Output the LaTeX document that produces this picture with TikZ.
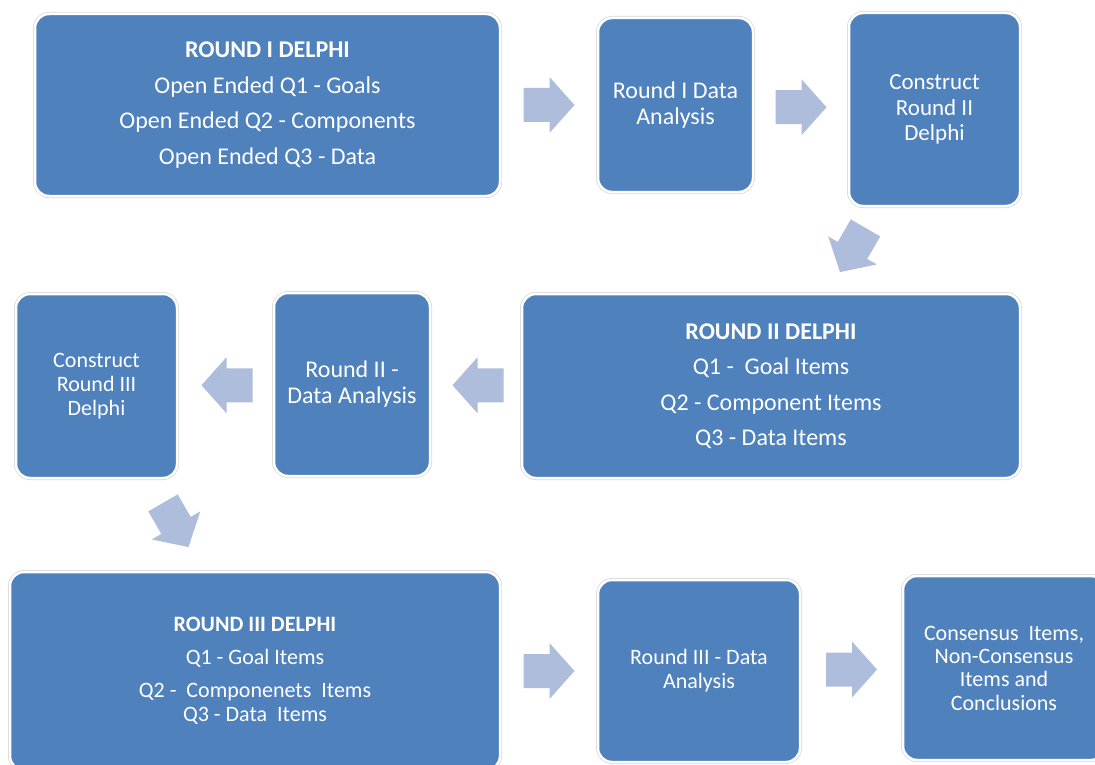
\documentclass[tikz,border=0pt]{standalone}
\usepackage{fontspec}
\setmainfont{Carlito}
\usetikzlibrary{calc}
\definecolor{boxblue}{RGB}{79,129,189}
\definecolor{arrowblue}{RGB}{173,189,219}
\tikzset{
  box/.style={rectangle, rounded corners=14pt, fill=boxblue, draw=white, line width=2.5pt,
    preaction={draw=black!15, line width=4pt}, text=white, align=center, inner sep=0pt},
  bigtext/.style={font=\fontsize{24}{35.5}\selectfont},
  midtext/.style={font=\fontsize{24}{26}\selectfont},
  smalltext/.style={font=\fontsize{22}{24}\selectfont},
  blockarrow/.style={fill=arrowblue},
}
\newcommand\blockarrow[2]{%
  \fill[blockarrow, shift={#1}, rotate=#2]
    (-25.5,-17) -- (0.5,-17) -- (0.5,-28) -- (25.5,0) -- (0.5,28) -- (0.5,17) -- (-25.5,17) -- cycle;}
\begin{document}
\begin{tikzpicture}[x=1pt,y=-1pt]
\useasboundingbox (0,0) rectangle (1095,765);
\clip (0,0) rectangle (1095,765);
% row 1
\node[box, bigtext, minimum width=465pt, minimum height=182pt] (b1) at (267.5,105)
  {\textbf{ROUND I DELPHI}\\Open Ended Q1 - Goals\\Open Ended Q2 - Components\\Open Ended Q3 - Data};
\node[box, midtext, minimum width=155pt, minimum height=174pt] (b2) at (675.5,105)
  {Round I Data\\Analysis};
\node[box, font=\fontsize{23}{25.5}\selectfont, minimum width=171pt, minimum height=193pt] (b3) at (934.5,109.5)
  {Construct\\Round II\\Delphi};
% row 2
\node[box, bigtext, minimum width=498pt, minimum height=184pt] (b4) at (771,386)
  {\textbf{ROUND II DELPHI}\\Q1 -\ \ Goal Items\\Q2 - Component Items\\Q3 - Data Items};
\node[box, midtext, minimum width=156pt, minimum height=183pt] (b5) at (352,384.5)
  {Round II -\\Data Analysis};
\node[box, smalltext, minimum width=161pt, minimum height=184pt] (b6) at (96.5,386)
  {Construct\\Round III\\Delphi};
% row 3
\node[box, smalltext, minimum width=490pt, minimum height=198pt] (b7) at (255,671)
  {\textbf{ROUND III DELPHI}\\[9pt]Q1 - Goal Items\\[9pt]Q2 -\ \ Componenets\ \ Items\\Q3 - Data\ \ Items};
\node[box, smalltext, minimum width=202pt, minimum height=182pt] (b8) at (699,671)
  {Round III - Data\\Analysis};
\node[box, font=\fontsize{22}{23.3}\selectfont, minimum width=202pt, minimum height=184pt] (b9) at (1004,668)
  {Consensus\ \ Items,\\Non-Consensus\\Items and\\Conclusions};
% arrows
\blockarrow{($(b1.east)!0.5!(b2.west)$)}{0}
\blockarrow{($(b2.east)!0.5!(b3.west)$)}{0}
\blockarrow{($(b3.south)!0.5!(b4.north)$)}{-120}
\blockarrow{($(b4.west)!0.5!(b5.east)+(2,0)$)}{180}
\blockarrow{($(b5.west)!0.5!(b6.east)+(1.5,0)$)}{180}
\blockarrow{($(b6.south)!0.5!(b7.north)$)}{-60}
\blockarrow{($(b7.east)!0.5!(b8.west)$)}{0}
\blockarrow{($(b8.east)!0.5!(b9.west)$)}{0}
\end{tikzpicture}
\end{document}
